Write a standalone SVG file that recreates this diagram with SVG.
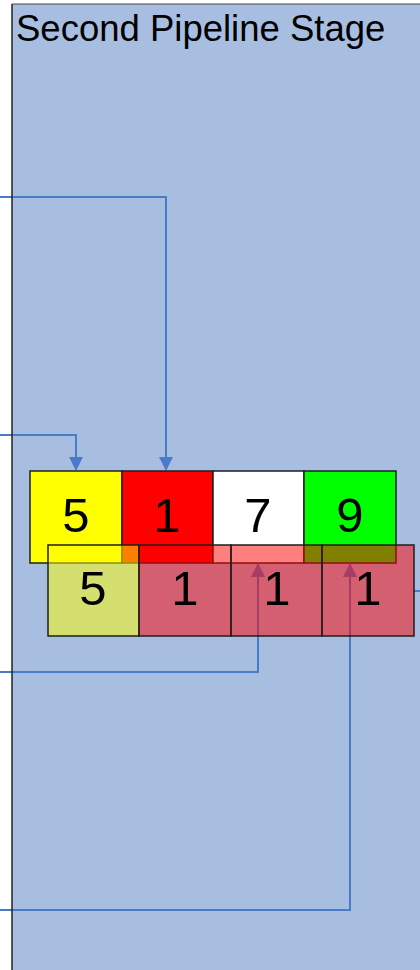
<svg xmlns="http://www.w3.org/2000/svg" width="420" height="970" viewBox="0 0 420 970">
<style>
.bx{stroke:#1e1e1e;stroke-width:1.5}
.t2{fill-opacity:0.5}
.num{font-family:"Liberation Sans",Arial,sans-serif;font-size:49px;fill:#000;text-anchor:middle}
.con{fill:none;stroke:#4a7bc8;stroke-width:2}
</style>
<defs>
<marker id="ah" markerWidth="14" markerHeight="14" refX="13" refY="7" orient="auto" markerUnits="userSpaceOnUse">
<path d="M0,0 L14,7 L0,14 Z" fill="#4a7bc8"/>
</marker>
</defs>
<rect x="0" y="0" width="420" height="970" fill="#ffffff"/>
<g id="stage">
<rect x="12" y="4" width="420" height="980" fill="#a8bee0"/>
<text x="16" y="41" font-family="Liberation Sans,Arial,sans-serif" font-size="36.5" fill="#000">Second Pipeline Stage</text>
</g>
<g id="row1">
<g id="r1c1"><rect class="bx" x="30" y="471" width="92" height="92" fill="#ffff00"/><text class="num" x="76" y="532">5</text></g>
<g id="r1c2"><rect class="bx" x="122" y="471" width="91" height="92" fill="#ff0000"/><text class="num" x="167" y="532">1</text></g>
<g id="r1c3"><rect class="bx" x="213" y="471" width="91" height="92" fill="#ffffff"/><text class="num" x="258" y="532">7</text></g>
<g id="r1c4"><rect class="bx" x="304" y="471" width="92" height="92" fill="#00ff00"/><text class="num" x="350" y="532">9</text></g>
</g>
<g id="connectors">
<polyline class="con" points="0,197 166,197 166,470" marker-end="url(#ah)"/>
<polyline class="con" points="0,435 76,435 76,470" marker-end="url(#ah)"/>
<polyline class="con" points="0,672 258,672 258,564" marker-end="url(#ah)"/>
<polyline class="con" points="0,910 350,910 350,564" marker-end="url(#ah)"/>
<line class="con" x1="414" y1="591" x2="420" y2="591"/>
</g>
<line x1="12" y1="4" x2="12" y2="970" stroke="#222" stroke-width="1.5"/>
<line x1="12" y1="4" x2="420" y2="4" stroke="#444" stroke-width="1"/>
<g id="row2">
<g id="r2c1"><rect class="bx t2" x="48" y="545" width="91" height="91" fill="#ffff00"/><text class="num" x="93" y="605">5</text></g>
<g id="r2c2"><rect class="bx t2" x="139" y="545" width="92" height="91" fill="#ff0000"/><text class="num" x="185" y="605">1</text></g>
<g id="r2c3"><rect class="bx t2" x="231" y="545" width="91" height="91" fill="#ff0000"/><text class="num" x="277" y="605">1</text></g>
<g id="r2c4"><rect class="bx t2" x="322" y="545" width="92" height="91" fill="#ff0000"/><text class="num" x="368" y="605">1</text></g>
</g>
</svg>
